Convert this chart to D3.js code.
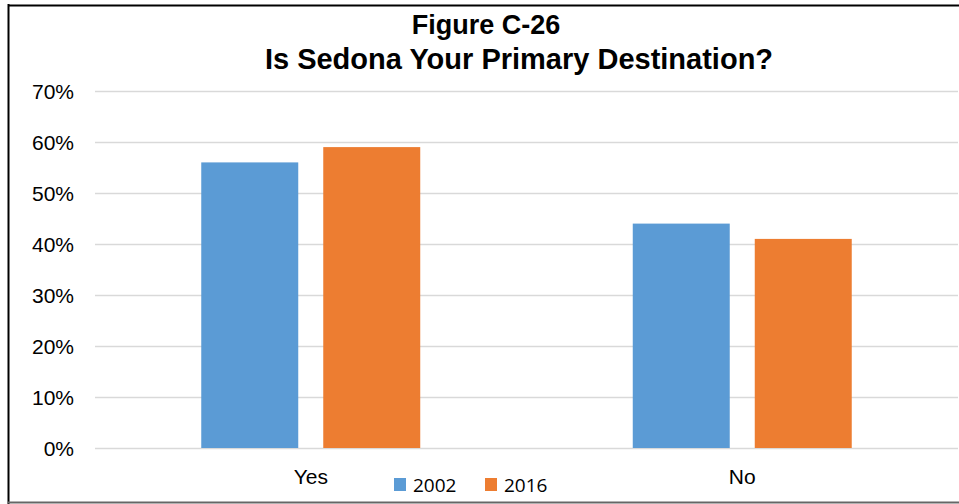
<!DOCTYPE html>
<html>
<head>
<meta charset="utf-8">
<script src="https://cdn.jsdelivr.net/npm/d3@7"></script>
<style>
  html, body { margin: 0; padding: 0; background: #fff; }
  svg { display: block; }
</style>
</head>
<body>
<svg id="chart" width="959" height="504"></svg>
<script>
// Survey answers by year
const categories = ["Yes", "No"];
const years = ["2002", "2016"];
const values2002 = [0.56, 0.44];
const values2016 = [0.59, 0.41];
const yTicks = [0, 0.1, 0.2, 0.3, 0.4, 0.5, 0.6, 0.7];
const colors = ["#5B9BD5", "#ED7D31"];
const titleLines = ["Figure C-26", "Is Sedona Your Primary Destination?"];

const rows = categories.map((c, i) => ({ category: c, values: [values2002[i], values2016[i]] }));

const svg = d3.select("#chart");
const W = 959, H = 504;
const plot = { left: 95, right: 958, top: 91, bottom: 448 };

// frame
svg.append("line").attr("x1", 8.5).attr("x2", 8.5).attr("y1", 4).attr("y2", H)
  .attr("stroke", "#000").attr("stroke-width", 2);
svg.append("line").attr("x1", 8).attr("x2", W).attr("y1", 5.5).attr("y2", 5.5)
  .attr("stroke", "#000").attr("stroke-width", 2);
svg.append("line").attr("x1", 8).attr("x2", W).attr("y1", 502.5).attr("y2", 502.5)
  .attr("stroke", "#666").attr("stroke-width", 2);

const x0 = d3.scaleBand().domain(categories).range([plot.left, plot.right]);
const x1 = d3.scaleBand().domain(years).range([0, x0.bandwidth()])
  .paddingInner(0.205).paddingOuter(0.871);
const y = d3.scaleLinear().domain([0, 0.7]).range([plot.bottom, plot.top]);

// gridlines
svg.append("g").selectAll("line").data(yTicks).join("line")
  .attr("x1", plot.left).attr("x2", plot.right)
  .attr("y1", d => Math.round(y(d)) + 0.5).attr("y2", d => Math.round(y(d)) + 0.5)
  .attr("stroke", "#d9d9d9").attr("stroke-width", 1.5);

// y axis labels
const yAxis = d3.axisLeft(y).tickValues(yTicks).tickFormat(d3.format(".0%")).tickSize(0).tickPadding(0);
const gy = svg.append("g").attr("transform", `translate(74,0)`).call(yAxis);
gy.select(".domain").remove();
gy.selectAll("text")
  .attr("font-family", "'Liberation Sans', Arial, sans-serif")
  .attr("font-size", 21).attr("fill", "#000").attr("dy", "0.35em");

// bars
const groups = svg.append("g").selectAll("g").data(rows).join("g")
  .attr("transform", d => `translate(${x0(d.category)},0)`);
groups.selectAll("rect").data(d => d.values.map((v, i) => ({ year: years[i], v, i }))).join("rect")
  .attr("x", d => x1(d.year))
  .attr("width", x1.bandwidth())
  .attr("y", d => y(d.v))
  .attr("height", d => y(0) - y(d.v))
  .attr("fill", d => colors[d.i]);

// category labels
const xAxis = d3.axisBottom(x0).tickSize(0).tickPadding(0);
const gx = svg.append("g").attr("transform", `translate(0,${plot.bottom})`).call(xAxis);
gx.select(".domain").remove();
gx.selectAll("text")
  .attr("font-family", "'Liberation Sans', Arial, sans-serif")
  .attr("font-size", 21).attr("fill", "#000").attr("dy", null).attr("y", 36);

// legend
const legendX = [394, 485];
const legend = svg.append("g").selectAll("g").data(years).join("g")
  .attr("transform", (d, i) => `translate(${legendX[i]},478)`);
legend.append("rect").attr("width", 12).attr("height", 13).attr("fill", (d, i) => colors[i]);
legend.append("text").attr("x", 19).attr("y", 14)
  .attr("font-family", "'Open Sans', 'Liberation Sans', sans-serif")
  .attr("font-size", 19).attr("fill", "#000").text(d => d);

// title, two lines
const titleX = [486, 519];
const titleSize = [27, 29];
svg.append("g").selectAll("text").data(titleLines).join("text")
  .attr("x", (d, i) => titleX[i]).attr("y", (d, i) => 34 + i * 35)
  .attr("text-anchor", "middle")
  .attr("font-family", "'Liberation Sans', Arial, sans-serif")
  .attr("font-weight", "bold").attr("font-size", (d, i) => titleSize[i]).attr("fill", "#000")
  .text(d => d);
</script>
</body>
</html>
